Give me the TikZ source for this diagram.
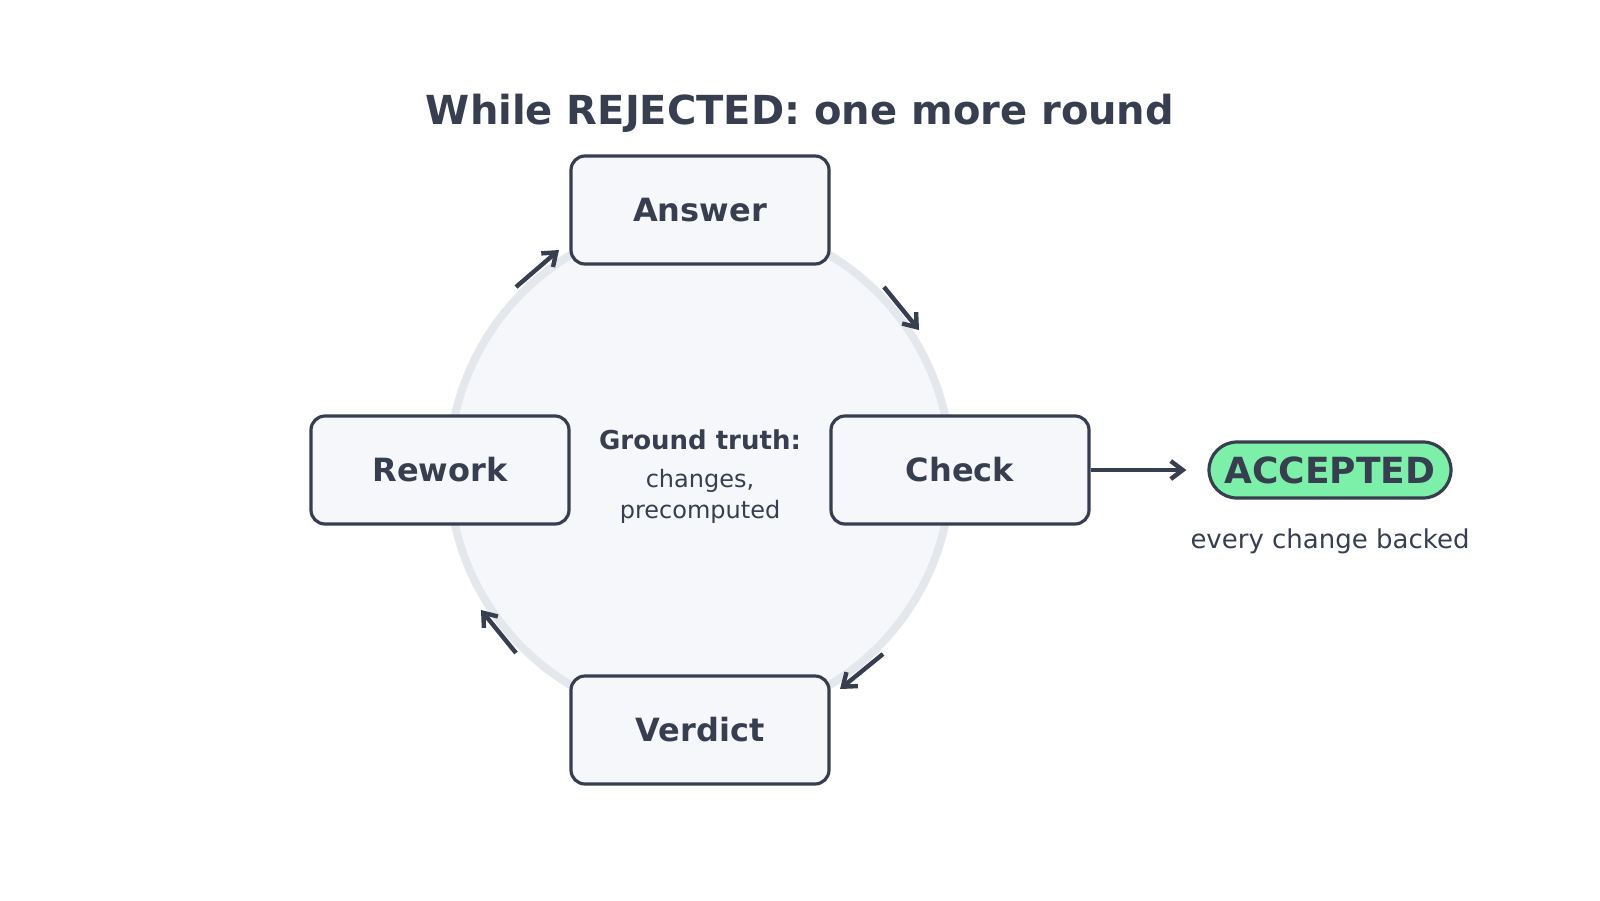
\documentclass[tikz,border=0pt]{standalone}
\usepackage{fontspec}
\setmainfont{DejaVu Sans}
\usetikzlibrary{arrows.meta}
\definecolor{ink}{HTML}{373E50}
\definecolor{boxfill}{HTML}{F5F7FA}
\definecolor{ringline}{HTML}{E4E7EC}
\definecolor{okgreen}{HTML}{7CF0A8}
\begin{document}
\begin{tikzpicture}[x=0.5pt, y=-0.5pt,
  stage/.style={draw=ink, line width=1.6pt, fill=boxfill, rounded corners=7pt, minimum width=129pt, minimum height=54pt, text=ink, font=\bfseries\fontsize{16}{19}\selectfont},
  pill/.style={draw=ink, line width=1.6pt, fill=okgreen, rounded corners=14pt, minimum width=121pt, minimum height=28pt, inner sep=0pt, text=ink, font=\bfseries\fontsize{18}{21}\selectfont},
  flow/.style={draw=ink, line width=2.2pt, -{Straight Barb[length=6pt,width=9pt]}},
  note/.style={text=ink, inner sep=0pt}]
\useasboundingbox (0,0) rectangle (1600,900);
\node[note, font=\bfseries\fontsize{20}{24}\selectfont] (title) at (800,113) {While REJECTED: one more round};
\draw[ringline, line width=4pt, fill=boxfill] (700,470) circle[radius=251];
\node[stage] (ans) at (700,210) {Answer};
\node[stage] (chk) at (960,470) {Check};
\node[stage] (vrd) at (700,730) {Verdict};
\node[stage] (rwk) at (440,470) {Rework};
\node[note, font=\bfseries\fontsize{13}{16}\selectfont] (gt) at (700,440) {Ground truth:};
\node[note, align=center, font=\fontsize{12}{15.5}\selectfont] (gtsub) at (700,496) {changes,\\precomputed};
\node[pill] (acc) at (1330,470) {ACCEPTED};
\node[note, font=\fontsize{13}{16}\selectfont] (backed) at (1330,541) {every change backed};
\coordinate (a1s) at (884,287);
\coordinate (a1e) at (919,330);
\coordinate (a2s) at (883,654);
\coordinate (a2e) at (840,689);
\coordinate (a3s) at (516,653);
\coordinate (a3e) at (481,610);
\coordinate (a4s) at (516,287);
\coordinate (a4e) at (559,250);
\draw[flow] (a1s) -- (a1e);
\draw[flow] (a2s) -- (a2e);
\draw[flow] (a3s) -- (a3e);
\draw[flow] (a4s) -- (a4e);
\draw[flow, shorten >=10.5pt] (chk) -- (acc);
\end{tikzpicture}
\end{document}
